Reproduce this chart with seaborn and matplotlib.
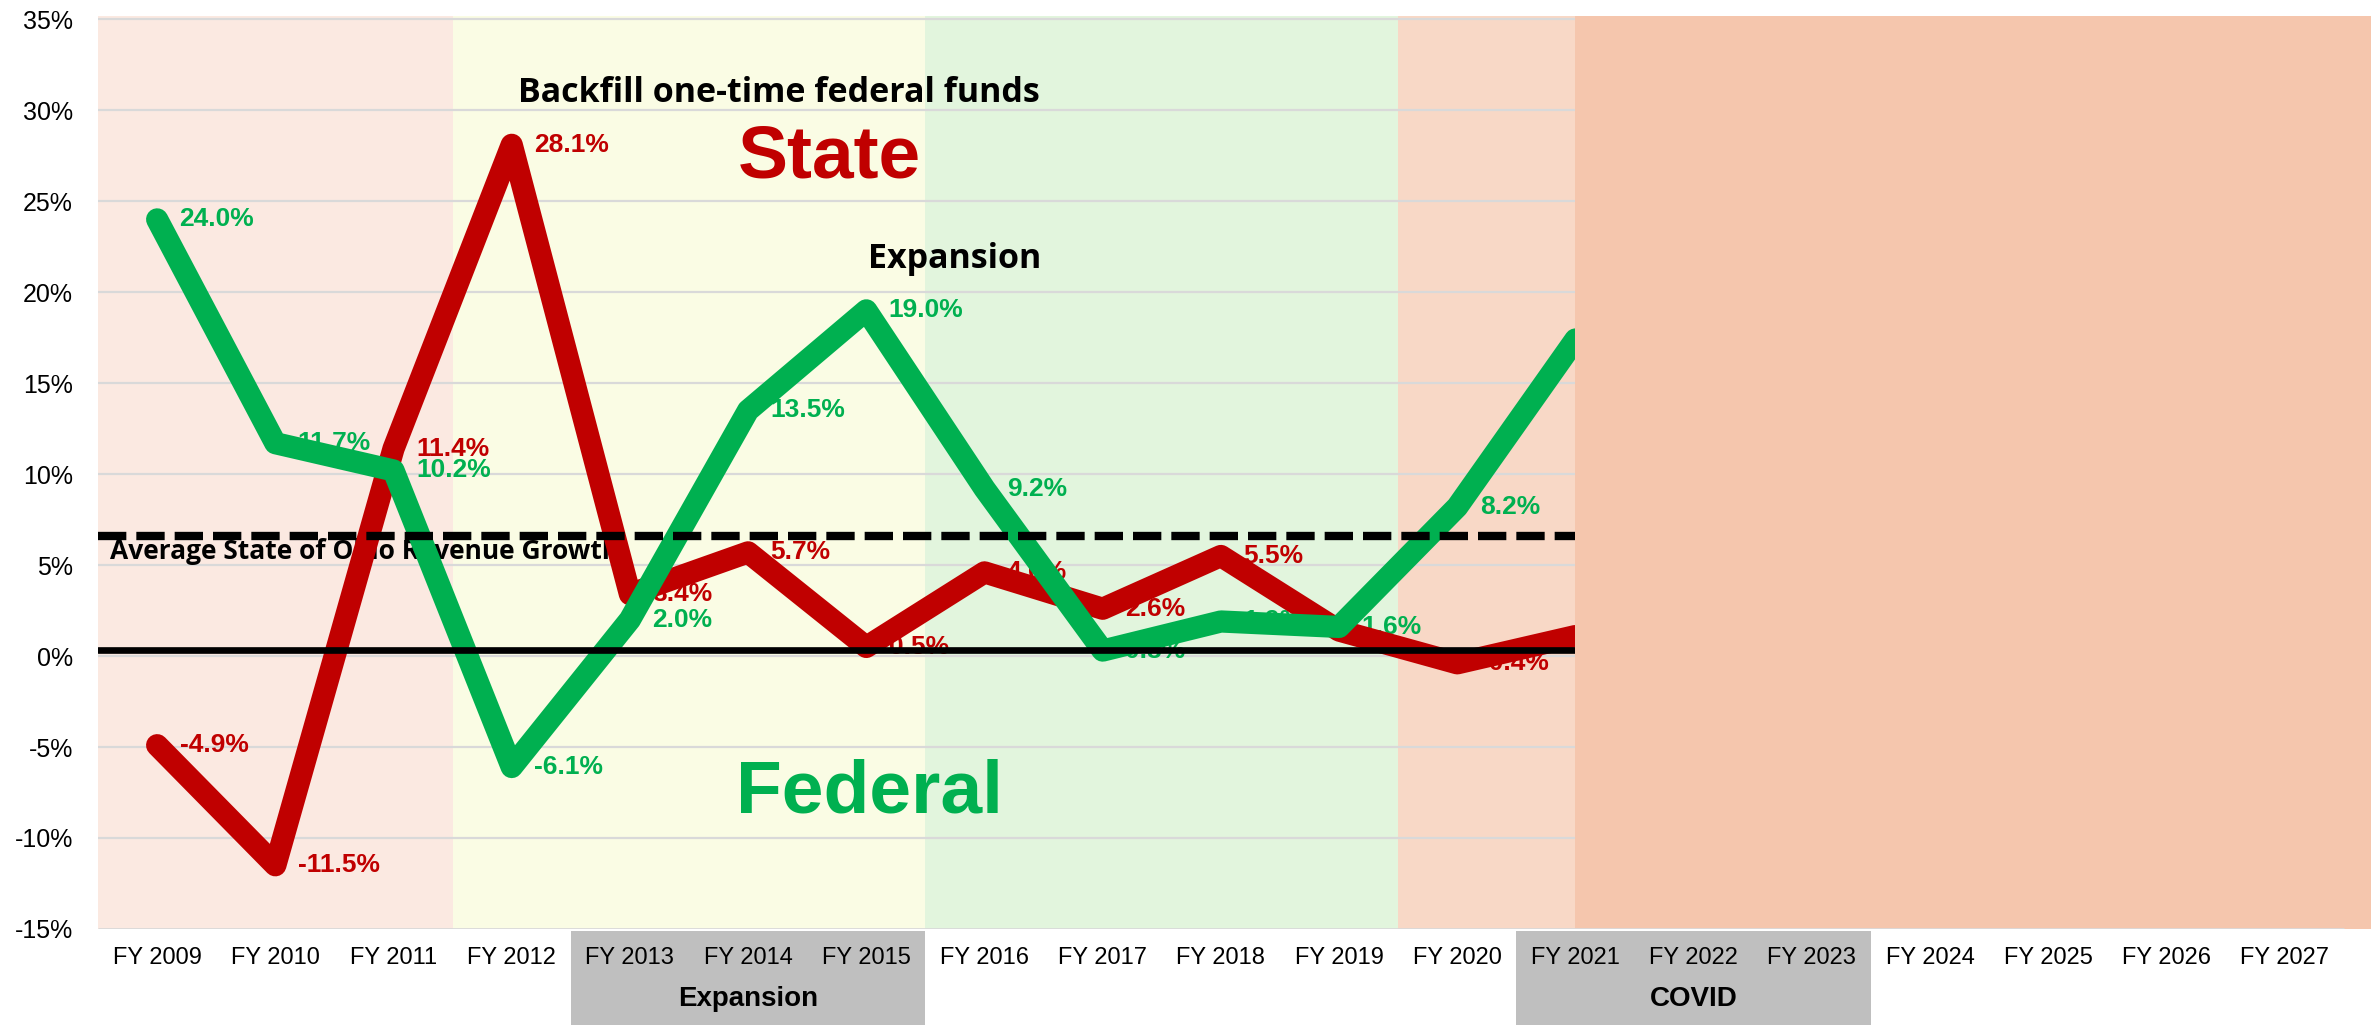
import numpy as np
import pandas as pd
import matplotlib.pyplot as plt
from matplotlib.patches import Rectangle
import seaborn as sns

# fiscal years on the axis
years = ['FY 2009', 'FY 2010', 'FY 2011', 'FY 2012', 'FY 2013', 'FY 2014', 'FY 2015',
         'FY 2016', 'FY 2017', 'FY 2018', 'FY 2019', 'FY 2020', 'FY 2021', 'FY 2022',
         'FY 2023', 'FY 2024', 'FY 2025', 'FY 2026', 'FY 2027']

# growth rates (%), FY 2009 - FY 2021
state = [-4.9, -11.5, 11.4, 28.1, 3.4, 5.7, 0.5, 4.6, 2.6, 5.5, 1.4, -0.4, 1.1]
federal = [24.0, 11.7, 10.2, -6.1, 2.0, 13.5, 19.0, 9.2, 0.3, 1.9, 1.6, 8.2, 17.4]

avg_state_growth = 6.6
base_line = 0.35

yticks = list(range(-15, 40, 5))

RED = '#C00000'
GREEN = '#00B050'

sns.set_theme(style='white')
plt.rcParams['font.family'] = ['Liberation Sans', 'DejaVu Sans']
plt.rcParams['text.color'] = 'black'
plt.rcParams['xtick.color'] = 'black'
plt.rcParams['ytick.color'] = 'black'

fig = plt.figure(figsize=(23.74, 10.25), dpi=100)
ax = fig.add_axes([0.0413, 0.0937, 0.9574, 0.8907])
ax.set_xlim(-0.5, 18.73)
ax.set_ylim(-15, 35.18)

# period shading
band_edges = [-0.5, 2.5, 6.5, 10.5, 12.0]
band_colors = ['#FBE9E1', '#FAFCE4', '#E2F5DD', '#F8D8C6']
for x0, x1, c in zip(band_edges[:-1], band_edges[1:], band_colors):
    ax.axvspan(x0, x1, color=c, lw=0, zorder=0)

# gridlines
ax.hlines(yticks[1:], -0.5, 18.5, color='#D9D9D9', lw=1.6, zorder=1)

df = pd.DataFrame({'pos': np.arange(len(state)), 'state': state, 'federal': federal})
sns.lineplot(data=df, x='pos', y='state', color=RED, linewidth=16, ax=ax,
             solid_capstyle='round', solid_joinstyle='round', zorder=3)
sns.lineplot(data=df, x='pos', y='federal', color=GREEN, linewidth=16, ax=ax,
             solid_capstyle='round', solid_joinstyle='round', zorder=3)

# value labels (sit under the lines); FY 2019 state label is hidden in the original
for i, v in enumerate(state[:-1]):
    if i == 10:
        continue
    ax.text(i + 0.19, v, f'{v:.1f}%', color=RED, fontsize=19, fontweight='bold',
            va='center', ha='left', zorder=2)
for i, v in enumerate(federal[:-1]):
    ax.text(i + 0.19, v, f'{v:.1f}%', color=GREEN, fontsize=19, fontweight='bold',
            va='center', ha='left', zorder=2.1)

ax.axhline(avg_state_growth, color='black', lw=6, dashes=(3.4, 1.2), zorder=4)
ax.axhline(base_line, color='black', lw=4.8, zorder=4)
ax.text(-0.4, 5.75, 'Average State of Ohio Revenue Growth', fontsize=19,
        fontweight='bold', va='center', ha='left', zorder=2,
        family=['Open Sans', 'Liberation Sans'])

# covid / future years block
ax.axvspan(12.0, 18.73, color='#F5C6AD', lw=0, zorder=5)
ax.hlines(-15, -0.5, 18.5, color='#D9D9D9', lw=2, zorder=6)

ax.text(3.05, 30.95, 'Backfill one-time federal funds', fontsize=24.5, fontweight='bold',
        va='center', ha='left', zorder=7, family=['Open Sans', 'Liberation Sans'])
ax.text(5.69, 27.35, 'State', color=RED, fontsize=54, fontweight='bold',
        va='center', ha='center', zorder=7)
ax.text(6.75, 21.8, 'Expansion', fontsize=24.5, fontweight='bold',
        va='center', ha='center', zorder=7, family=['Open Sans', 'Liberation Sans'])
ax.text(6.03, -7.5, 'Federal', color=GREEN, fontsize=54, fontweight='bold',
        va='center', ha='center', zorder=7)

# grouping boxes under the axis
xt = ax.get_xaxis_transform()
for x0, x1, label in [(3.5, 6.5, 'Expansion'), (11.5, 14.5, 'COVID')]:
    ax.add_patch(Rectangle((x0, -0.106), x1 - x0, 0.104, transform=xt,
                           facecolor='#BFBFBF', lw=0, clip_on=False, zorder=0.5))
    ax.text((x0 + x1) / 2, -0.077, label, transform=xt, fontsize=20,
            fontweight='bold', ha='center', va='center', clip_on=False)

ax.set_xticks(range(len(years)))
ax.set_xticklabels(years, fontsize=17)
ax.set_yticks(yticks)
ax.set_yticklabels([f'{v}%' for v in yticks], fontsize=18)
ax.tick_params(axis='x', length=0, pad=13)
ax.tick_params(axis='y', length=0, pad=18)
ax.set_xlabel('')
ax.set_ylabel('')
for s in ax.spines.values():
    s.set_visible(False)

fig.savefig('out.png', dpi=100)
